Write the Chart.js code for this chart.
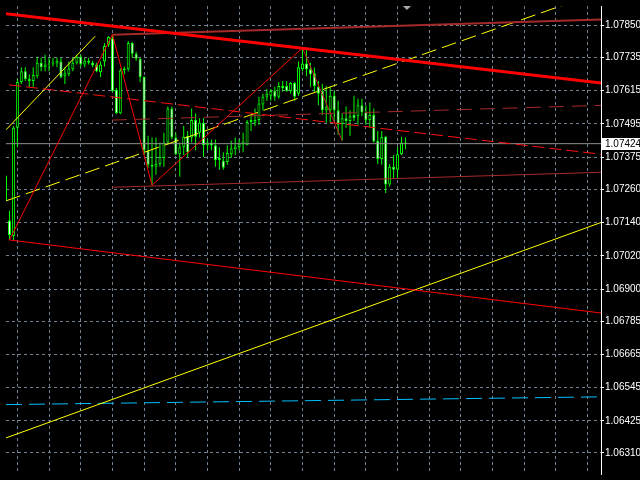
<!DOCTYPE html>
<html><head><meta charset="utf-8">
<script src="https://cdn.jsdelivr.net/npm/chart.js@4"></script>
<style>html,body{margin:0;padding:0;background:#000;overflow:hidden}#wrap{width:640px;height:480px;position:relative}</style>
</head><body><div id="wrap"><canvas id="c"></canvas></div>
<script>
// EURUSD-style candles, bar index starts at -1 (partially visible bar)
const firstBar = -1;
const opens = [1.07309,1.07147,1.07091,1.07481,1.07646,1.07685,1.07657,1.07650,1.07667,1.07716,1.07699,1.07709,1.07713,1.07713,1.07720,1.07667,1.07674,1.07692,1.07716,1.07737,1.07709,1.07723,1.07716,1.07709,1.07681,1.07720,1.07780,1.07804,1.07618,1.07534,1.07688,1.07692,1.07787,1.07748,1.07730,1.07664,1.07400,1.07348,1.07341,1.07351,1.07372,1.07428,1.07551,1.07446,1.07386,1.07411,1.07453,1.07446,1.07509,1.07463,1.07499,1.07418,1.07428,1.07418,1.07365,1.07362,1.07358,1.07386,1.07404,1.07411,1.07421,1.07418,1.07502,1.07499,1.07509,1.07565,1.07593,1.07597,1.07614,1.07593,1.07632,1.07632,1.07614,1.07643,1.07604,1.07692,1.07713,1.07692,1.07678,1.07629,1.07614,1.07544,1.07544,1.07597,1.07544,1.07495,1.07516,1.07506,1.07527,1.07523,1.07562,1.07537,1.07509,1.07527,1.07435,1.07369,1.07449,1.07277,1.07341,1.07330,1.07386,1.07428];
const highs = [1.07323,1.07182,1.07488,1.07657,1.07699,1.07699,1.07674,1.07699,1.07737,1.07734,1.07744,1.07734,1.07734,1.07734,1.07734,1.07699,1.07720,1.07734,1.07744,1.07744,1.07734,1.07734,1.07723,1.07716,1.07720,1.07787,1.07811,1.07818,1.07625,1.07695,1.07702,1.07794,1.07790,1.07755,1.07734,1.07667,1.07453,1.07446,1.07446,1.07428,1.07463,1.07558,1.07558,1.07463,1.07428,1.07488,1.07470,1.07551,1.07534,1.07516,1.07516,1.07439,1.07439,1.07439,1.07411,1.07393,1.07418,1.07435,1.07446,1.07439,1.07463,1.07509,1.07527,1.07551,1.07593,1.07604,1.07621,1.07621,1.07629,1.07646,1.07650,1.07650,1.07646,1.07646,1.07720,1.07769,1.07769,1.07716,1.07699,1.07650,1.07639,1.07632,1.07629,1.07614,1.07579,1.07534,1.07558,1.07544,1.07597,1.07586,1.07586,1.07562,1.07572,1.07551,1.07470,1.07470,1.07453,1.07351,1.07383,1.07411,1.07449,1.07446];
const lows = [1.07200,1.07077,1.07077,1.07411,1.07639,1.07650,1.07629,1.07629,1.07660,1.07685,1.07685,1.07685,1.07702,1.07699,1.07660,1.07639,1.07667,1.07685,1.07709,1.07702,1.07699,1.07709,1.07699,1.07681,1.07664,1.07702,1.07772,1.07611,1.07530,1.07530,1.07674,1.07685,1.07734,1.07723,1.07646,1.07383,1.07337,1.07274,1.07312,1.07341,1.07341,1.07421,1.07439,1.07383,1.07305,1.07383,1.07376,1.07428,1.07400,1.07446,1.07376,1.07400,1.07400,1.07341,1.07330,1.07330,1.07348,1.07372,1.07383,1.07400,1.07393,1.07418,1.07470,1.07488,1.07492,1.07544,1.07579,1.07579,1.07579,1.07586,1.07611,1.07611,1.07604,1.07579,1.07597,1.07685,1.07667,1.07629,1.07611,1.07562,1.07527,1.07499,1.07499,1.07509,1.07456,1.07435,1.07481,1.07453,1.07506,1.07492,1.07523,1.07492,1.07481,1.07428,1.07351,1.07348,1.07246,1.07270,1.07298,1.07298,1.07383,1.07404];
const closes = [1.07218,1.07095,1.07481,1.07646,1.07685,1.07657,1.07650,1.07671,1.07716,1.07699,1.07709,1.07713,1.07716,1.07723,1.07664,1.07678,1.07695,1.07716,1.07737,1.07709,1.07723,1.07716,1.07706,1.07685,1.07709,1.07776,1.07808,1.07614,1.07534,1.07688,1.07695,1.07787,1.07748,1.07730,1.07664,1.07400,1.07348,1.07341,1.07351,1.07376,1.07428,1.07551,1.07446,1.07386,1.07411,1.07449,1.07393,1.07509,1.07449,1.07499,1.07418,1.07428,1.07418,1.07365,1.07372,1.07337,1.07390,1.07407,1.07414,1.07425,1.07432,1.07502,1.07509,1.07509,1.07569,1.07593,1.07604,1.07614,1.07593,1.07632,1.07625,1.07614,1.07643,1.07593,1.07699,1.07713,1.07692,1.07674,1.07632,1.07604,1.07544,1.07555,1.07597,1.07544,1.07492,1.07516,1.07506,1.07523,1.07516,1.07562,1.07537,1.07509,1.07527,1.07432,1.07369,1.07449,1.07277,1.07341,1.07330,1.07386,1.07428,1.07424];

const priceTicks = ["1.07850","1.07735","1.07615","1.07495","1.07375","1.07260","1.07140","1.07020","1.06900","1.06785","1.06665","1.06545","1.06425","1.06310"];
const lastPrice = "1.07424";
const priceMin = 1.06234, priceMax = 1.07920;
const barMin = -0.875, barMax = 149.375;
const gridBars = [2,10,18,26,34,42,50,58,66,74,82,90,98,106,114,122,130,138,146];

// drawn objects as [bar index, price]
const redTrend = [[-0.875,1.07892],[149.375,1.07643]];
const topLevel = [[26,1.07816],[149.375,1.07871]];
const redChannel = [[-0.125,1.07636],[149.375,1.07386]];
const midLevel = [[25.875,1.07509],[149.375,1.07562]];
const lowLevel = [[25.875,1.07267],[149.375,1.07321]];
const redSupport = [[0,1.07077],[149.375,1.06814]];
const zigzag = [[0,1.07077],[26,1.07818],[36,1.07274],[74,1.07769]];
const zigzagLast = [[74,1.07769],[84,1.07435]];
const yellowShort = [[-0.875,1.07474],[21.625,1.07811]];
const yellowDash = [[-0.875,1.07218],[149.375,1.07971]];
const yellowLong = [[-0.875,1.06364],[149.375,1.07140]];
const cyanLevel = [[-0.875,1.06484],[149.375,1.06512]];
const marker = [[100.375,1.07927]];

const pts = a => a.map(([x,y]) => ({x, y}));
const wicks = [], bulls = [], bears = [];
opens.forEach((o,k) => {
  const x = firstBar + k, c = closes[k];
  wicks.push({x, y:[lows[k], highs[k]]});
  (c >= o ? bulls : bears).push({x, y:[o, c]});
});
const lineDs = (data, color, width, dash, order) => ({
  type:'line', data:pts(data), borderColor:color, borderWidth:width, borderDash:dash||[],
  pointRadius:0, fill:false, tension:0, order:order||0, borderCapStyle:'butt'
});
const barBase = {type:'bar', grouped:false, borderSkipped:false, inflateAmount:0, minBarLength:1};

const priceLabel = {
  id:'priceLabel',
  afterDraw(chart){
    const ctx = chart.ctx, ys = chart.scales.y;
    const y = Math.round(ys.getPixelForValue(parseFloat(lastPrice)));
    ctx.save();
    ctx.fillStyle = '#fff';
    ctx.fillRect(602, y-6, 38, 12);
    ctx.fillStyle = '#000';
    ctx.font = '10px "Liberation Sans"';
    ctx.textBaseline = 'middle';
    ctx.fillText(lastPrice, 605, y+0.5);
    ctx.restore();
  }
};

new Chart(document.getElementById('c'), {
  type:'bar',
  data:{datasets:[
    lineDs(redTrend,'#ff0000',3),
    lineDs(topLevel,'#a52a2a',2),
    lineDs(redChannel,'#ff1010',1,[12,5]),
    lineDs(midLevel,'#a52a2a',1,[15,8]),
    lineDs(lowLevel,'#a52a2a',1),
    lineDs(redSupport,'#ff0000',1),
    lineDs(zigzag,'#ff0000',1),
    lineDs(zigzagLast,'#c02020',1),
    lineDs(yellowShort,'#ffff00',1),
    lineDs(yellowDash,'#ffff00',1,[15,6]),
    lineDs(yellowLong,'#ffff00',1),
    lineDs(cyanLevel,'#00bfff',1,[16,7]),
    lineDs([[barMin,parseFloat(lastPrice)],[barMax,parseFloat(lastPrice)]],'#909090',1,[],5),
    {type:'line', data:pts(marker), showLine:false, pointStyle:'rectRot', pointRadius:6, pointBackgroundColor:'#a8a8b0', pointBorderWidth:0, order:0},
    Object.assign({}, barBase, {data:wicks, backgroundColor:'#00ff00', borderWidth:0, barThickness:1, order:20}),
    Object.assign({}, barBase, {data:bulls, backgroundColor:'#000000', borderColor:'#00ff00', borderWidth:1, barThickness:3, order:19}),
    Object.assign({}, barBase, {data:bears, backgroundColor:'#ffffff', borderColor:'#00ff00', borderWidth:1, barThickness:3, order:19})
  ]},
  options:{
    responsive:true, maintainAspectRatio:false, animation:false, devicePixelRatio:1,
    layout:{padding:0},
    plugins:{legend:{display:false}, tooltip:{enabled:false}},
    events:[],
    scales:{
      x:{type:'linear', min:barMin, max:barMax, offset:false, display:true,
        ticks:{display:false},
        grid:{color:'#708090', lineWidth:1, drawTicks:false, offset:false},
        border:{display:false, dash:[3,3]},
        afterBuildTicks:s => { s.ticks = gridBars.map(v => ({value:v})); },
        afterFit:s => { s.height = 0; s.paddingLeft = s.paddingRight = s.paddingTop = s.paddingBottom = 0; }
      },
      y:{type:'linear', position:'right', min:priceMin, max:priceMax,
        ticks:{color:'#ffffff', font:{family:'Liberation Sans', size:10}, padding:1, autoSkip:false,
          callback:v => v.toFixed(5)},
        grid:{color:'#708090', lineWidth:1, drawTicks:true, tickLength:3, tickColor:'#ffffff'},
        border:{display:true, color:'#ffffff', width:1, dash:[3,3]},
        afterBuildTicks:s => { s.ticks = priceTicks.map(t => ({value:parseFloat(t)})); },
        afterFit:s => { s.width = 39; s.paddingTop = s.paddingBottom = s.paddingLeft = s.paddingRight = 0; }
      }
    }
  },
  plugins:[priceLabel]
});
</script></body></html>
